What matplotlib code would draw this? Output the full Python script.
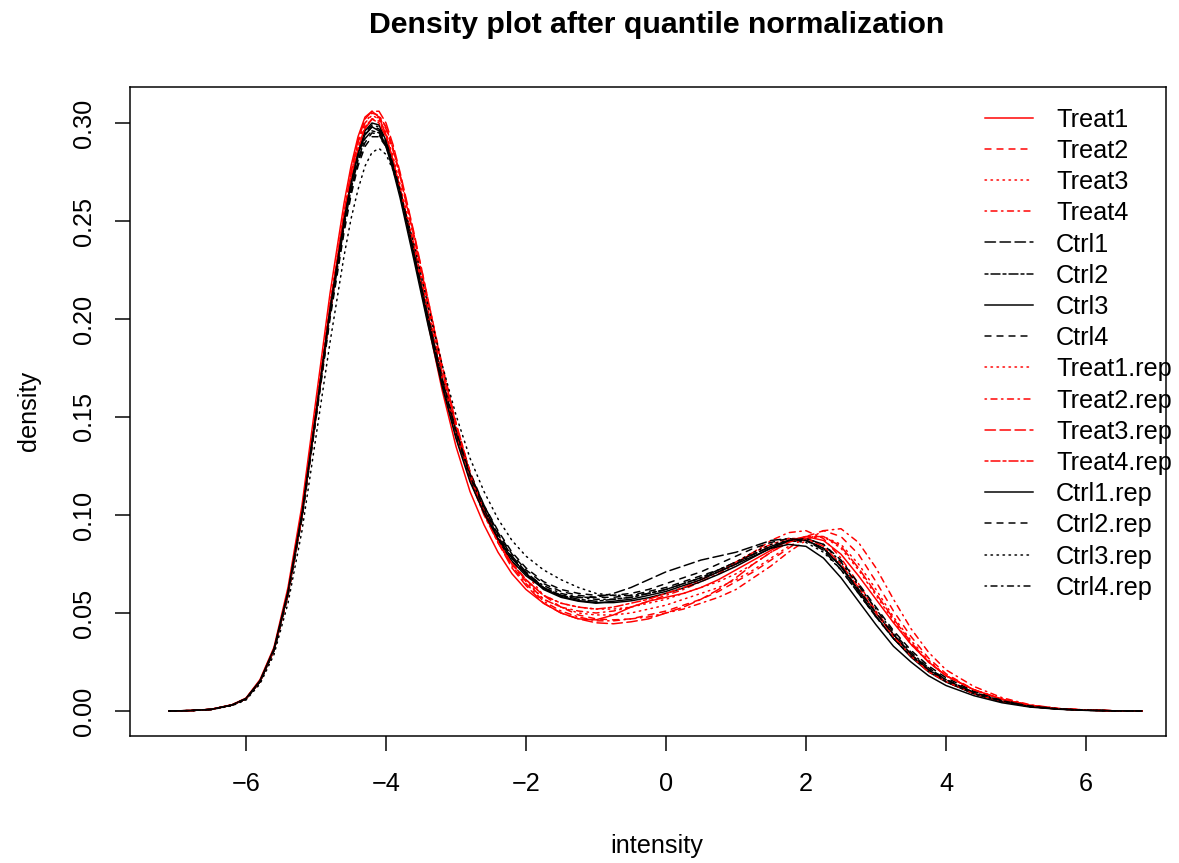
import matplotlib
matplotlib.use('Agg')
import matplotlib.pyplot as plt
from matplotlib.lines import Line2D

plt.rcParams['font.family'] = ['Liberation Sans', 'DejaVu Sans']

# ---------------- data ----------------
intensity = [-7.1, -6.8, -6.5, -6.2, -6.0, -5.8, -5.6, -5.4, -5.2, -5.0,
             -4.8, -4.6, -4.5, -4.4, -4.3, -4.2, -4.1, -4.0, -3.9, -3.8,
             -3.6, -3.4, -3.2, -3.0, -2.8, -2.6, -2.4, -2.2, -2.0, -1.75,
             -1.5, -1.25, -1.0, -0.75, -0.5, -0.25, 0.0, 0.25, 0.5, 0.75,
             1.0, 1.25, 1.5, 1.75, 2.0, 2.25, 2.5, 2.75, 3.0, 3.25,
             3.5, 3.75, 4.0, 4.4, 4.8, 5.2, 5.6, 6.0, 6.4, 6.8]

treat1 = [0.0000, 0.0002, 0.0009, 0.0032, 0.0066, 0.0160, 0.0325,
          0.063, 0.105, 0.159, 0.213, 0.259, 0.278, 0.293, 0.303, 0.306, 0.303, 0.294, 0.281, 0.266,
          0.233, 0.198, 0.164, 0.135, 0.112, 0.095, 0.081, 0.070, 0.062,
          0.055, 0.050, 0.047, 0.0465, 0.049, 0.053, 0.056, 0.058, 0.060, 0.063, 0.067, 0.072,
          0.077, 0.082, 0.087, 0.089, 0.087, 0.080, 0.069, 0.057, 0.045, 0.034, 0.025, 0.018,
          0.0108, 0.0060, 0.0029, 0.0012, 0.0005, 0.0001, 0.0000]
treat2 = [0.0000, 0.0002, 0.0008, 0.0030, 0.0062, 0.0150, 0.0310,
          0.059, 0.099, 0.150, 0.203, 0.250, 0.270, 0.286, 0.297, 0.302, 0.303, 0.297, 0.286, 0.273,
          0.242, 0.209, 0.176, 0.147, 0.122, 0.103, 0.088, 0.076, 0.067,
          0.059, 0.053, 0.049, 0.047, 0.0465, 0.047, 0.049, 0.051, 0.054, 0.057, 0.061, 0.066,
          0.071, 0.077, 0.083, 0.089, 0.092, 0.089, 0.080, 0.066, 0.051, 0.038, 0.027, 0.019,
          0.0108, 0.0060, 0.0029, 0.0012, 0.0005, 0.0001, 0.0000]
treat3 = [0.0000, 0.0002, 0.0008, 0.0030, 0.0062, 0.0150, 0.0310,
          0.060, 0.100, 0.152, 0.206, 0.252, 0.272, 0.287, 0.298, 0.302, 0.301, 0.294, 0.282, 0.268,
          0.237, 0.204, 0.172, 0.144, 0.121, 0.103, 0.089, 0.078, 0.070,
          0.059, 0.055, 0.053, 0.052, 0.052, 0.053, 0.055, 0.057, 0.060, 0.063, 0.066, 0.070,
          0.075, 0.081, 0.086, 0.089, 0.089, 0.083, 0.072, 0.059, 0.046, 0.034, 0.025, 0.018,
          0.0108, 0.0060, 0.0029, 0.0012, 0.0005, 0.0001, 0.0000]
treat4 = [0.0000, 0.0002, 0.0008, 0.0030, 0.0062, 0.0150, 0.0310,
          0.060, 0.100, 0.152, 0.206, 0.254, 0.274, 0.290, 0.300, 0.305, 0.304, 0.298, 0.287, 0.273,
          0.241, 0.207, 0.174, 0.145, 0.121, 0.102, 0.087, 0.075, 0.066,
          0.057, 0.053, 0.051, 0.050, 0.051, 0.053, 0.056, 0.059, 0.062, 0.066, 0.070, 0.075,
          0.081, 0.087, 0.091, 0.092, 0.088, 0.078, 0.065, 0.051, 0.039, 0.029, 0.021, 0.015,
          0.0088, 0.0048, 0.0023, 0.0010, 0.0004, 0.0001, 0.0000]
ctrl1 = [0.0000, 0.0002, 0.0008, 0.0030, 0.0062, 0.0150, 0.0310,
         0.060, 0.100, 0.151, 0.204, 0.249, 0.268, 0.283, 0.294, 0.298, 0.297, 0.290, 0.278, 0.265,
         0.233, 0.200, 0.169, 0.142, 0.120, 0.104, 0.090, 0.079, 0.071,
         0.063, 0.059, 0.058, 0.058, 0.060, 0.063, 0.067, 0.071, 0.074, 0.077, 0.079, 0.081,
         0.084, 0.087, 0.088, 0.087, 0.082, 0.072, 0.060, 0.048, 0.037, 0.028, 0.021, 0.015,
         0.0088, 0.0048, 0.0023, 0.0010, 0.0004, 0.0001, 0.0000]
ctrl2 = [0.0000, 0.0002, 0.0008, 0.0030, 0.0062, 0.0150, 0.0310,
         0.059, 0.099, 0.150, 0.202, 0.247, 0.266, 0.281, 0.292, 0.296, 0.295, 0.289, 0.278, 0.265,
         0.233, 0.200, 0.168, 0.141, 0.119, 0.102, 0.088, 0.078, 0.070,
         0.063, 0.059, 0.057, 0.056, 0.057, 0.058, 0.060, 0.062, 0.065, 0.068, 0.072, 0.076,
         0.080, 0.084, 0.087, 0.087, 0.083, 0.074, 0.062, 0.050, 0.039, 0.029, 0.021, 0.016,
         0.0090, 0.0049, 0.0023, 0.0010, 0.0004, 0.0001, 0.0000]
ctrl3 = [0.0000, 0.0002, 0.0008, 0.0030, 0.0062, 0.0150, 0.0310,
         0.060, 0.100, 0.152, 0.205, 0.251, 0.270, 0.285, 0.296, 0.300, 0.299, 0.291, 0.279, 0.265,
         0.233, 0.200, 0.168, 0.140, 0.118, 0.101, 0.087, 0.0765, 0.069,
         0.0625, 0.0585, 0.0563, 0.0553, 0.0553, 0.0562, 0.0578, 0.060, 0.0628, 0.066, 0.0697, 0.0738,
         0.0785, 0.0832, 0.0866, 0.0872, 0.0830, 0.0735, 0.0610, 0.0485, 0.0370, 0.0275, 0.0200, 0.0148,
         0.0088, 0.0048, 0.0023, 0.0010, 0.0004, 0.0001, 0.0000]
ctrl4 = [0.0000, 0.0002, 0.0008, 0.0030, 0.0062, 0.0150, 0.0310,
         0.059, 0.098, 0.149, 0.200, 0.244, 0.263, 0.278, 0.288, 0.293, 0.293, 0.288, 0.278, 0.266,
         0.236, 0.203, 0.171, 0.144, 0.122, 0.105, 0.091, 0.080, 0.072,
         0.065, 0.061, 0.059, 0.058, 0.058, 0.059, 0.061, 0.063, 0.066, 0.069, 0.072, 0.076,
         0.080, 0.084, 0.087, 0.088, 0.085, 0.077, 0.065, 0.053, 0.041, 0.031, 0.023, 0.017,
         0.0100, 0.0055, 0.0026, 0.0011, 0.0004, 0.0001, 0.0000]
treat1_rep = [0.0000, 0.0002, 0.0008, 0.0031, 0.0064, 0.0155, 0.0315,
              0.061, 0.102, 0.154, 0.208, 0.254, 0.274, 0.290, 0.300, 0.304, 0.302, 0.295, 0.283, 0.269,
              0.238, 0.205, 0.172, 0.143, 0.120, 0.101, 0.087, 0.075, 0.067,
              0.057, 0.053, 0.050, 0.049, 0.049, 0.050, 0.052, 0.054, 0.057, 0.060, 0.063, 0.067,
              0.072, 0.078, 0.084, 0.088, 0.089, 0.085, 0.075, 0.062, 0.048, 0.036, 0.026, 0.018,
              0.0108, 0.0060, 0.0029, 0.0012, 0.0005, 0.0001, 0.0000]
treat2_rep = [0.0000, 0.0002, 0.0008, 0.0030, 0.0062, 0.0150, 0.0310,
              0.059, 0.099, 0.150, 0.203, 0.250, 0.270, 0.286, 0.297, 0.302, 0.303, 0.298, 0.287, 0.274,
              0.243, 0.210, 0.177, 0.147, 0.122, 0.102, 0.086, 0.074, 0.065,
              0.056, 0.051, 0.048, 0.046, 0.046, 0.047, 0.048, 0.050, 0.052, 0.055, 0.058, 0.062,
              0.068, 0.074, 0.081, 0.087, 0.092, 0.093, 0.086, 0.073, 0.057, 0.042, 0.030, 0.021,
              0.0125, 0.0068, 0.0032, 0.0013, 0.0005, 0.0001, 0.0000]
treat3_rep = [0.0000, 0.0002, 0.0008, 0.0030, 0.0062, 0.0150, 0.0310,
              0.060, 0.100, 0.152, 0.206, 0.254, 0.275, 0.291, 0.302, 0.306, 0.306, 0.300, 0.289, 0.275,
              0.244, 0.210, 0.176, 0.146, 0.121, 0.101, 0.086, 0.073, 0.064,
              0.055, 0.050, 0.047, 0.045, 0.0445, 0.0455, 0.047, 0.050, 0.053, 0.057, 0.062, 0.068,
              0.075, 0.081, 0.086, 0.089, 0.089, 0.084, 0.073, 0.060, 0.047, 0.035, 0.025, 0.018,
              0.0108, 0.0060, 0.0029, 0.0012, 0.0005, 0.0001, 0.0000]
treat4_rep = [0.0000, 0.0002, 0.0008, 0.0031, 0.0064, 0.0155, 0.0318,
              0.061, 0.101, 0.153, 0.206, 0.252, 0.271, 0.287, 0.298, 0.302, 0.300, 0.293, 0.281, 0.267,
              0.236, 0.202, 0.170, 0.141, 0.118, 0.100, 0.086, 0.075, 0.067,
              0.059, 0.055, 0.053, 0.052, 0.053, 0.055, 0.057, 0.060, 0.063, 0.067, 0.071, 0.076,
              0.081, 0.085, 0.088, 0.088, 0.084, 0.075, 0.063, 0.050, 0.038, 0.028, 0.020, 0.015,
              0.0088, 0.0048, 0.0023, 0.0010, 0.0004, 0.0001, 0.0000]
ctrl1_rep = [0.0000, 0.0002, 0.0008, 0.0031, 0.0064, 0.0155, 0.0318,
             0.061, 0.101, 0.152, 0.205, 0.250, 0.269, 0.284, 0.294, 0.298, 0.296, 0.288, 0.276, 0.262,
             0.230, 0.197, 0.166, 0.139, 0.117, 0.101, 0.088, 0.078, 0.070,
             0.062, 0.058, 0.056, 0.055, 0.056, 0.057, 0.059, 0.061, 0.064, 0.067, 0.071, 0.075,
             0.079, 0.083, 0.085, 0.084, 0.078, 0.068, 0.056, 0.044, 0.033, 0.025, 0.018, 0.013,
             0.0078, 0.0042, 0.0020, 0.0009, 0.0003, 0.0001, 0.0000]
ctrl2_rep = [0.0000, 0.0002, 0.0008, 0.0030, 0.0062, 0.0150, 0.0310,
             0.060, 0.099, 0.150, 0.202, 0.246, 0.265, 0.280, 0.290, 0.295, 0.294, 0.288, 0.277, 0.264,
             0.233, 0.201, 0.170, 0.143, 0.121, 0.105, 0.092, 0.081, 0.073,
             0.066, 0.062, 0.060, 0.059, 0.059, 0.060, 0.062, 0.065, 0.068, 0.071, 0.075, 0.079,
             0.083, 0.086, 0.088, 0.087, 0.083, 0.074, 0.062, 0.050, 0.039, 0.029, 0.022, 0.016,
             0.0095, 0.0052, 0.0025, 0.0011, 0.0004, 0.0001, 0.0000]
ctrl3_rep = [0.0000, 0.0002, 0.0007, 0.0027, 0.0056, 0.0138, 0.0288,
             0.055, 0.092, 0.140, 0.188, 0.232, 0.251, 0.266, 0.278, 0.285, 0.287, 0.284, 0.276, 0.265,
             0.238, 0.207, 0.177, 0.151, 0.129, 0.112, 0.098, 0.087, 0.079,
             0.072, 0.067, 0.063, 0.060, 0.059, 0.059, 0.060, 0.062, 0.065, 0.068, 0.072, 0.076,
             0.081, 0.085, 0.087, 0.086, 0.081, 0.072, 0.060, 0.048, 0.037, 0.028, 0.021, 0.015,
             0.0088, 0.0048, 0.0023, 0.0010, 0.0004, 0.0001, 0.0000]
ctrl4_rep = [0.0000, 0.0002, 0.0008, 0.0030, 0.0062, 0.0150, 0.0310,
             0.060, 0.100, 0.151, 0.204, 0.250, 0.269, 0.284, 0.295, 0.299, 0.298, 0.291, 0.279, 0.266,
             0.234, 0.201, 0.169, 0.142, 0.120, 0.103, 0.089, 0.078, 0.070,
             0.064, 0.060, 0.058, 0.057, 0.057, 0.058, 0.060, 0.062, 0.065, 0.068, 0.071, 0.075,
             0.080, 0.084, 0.087, 0.088, 0.085, 0.076, 0.064, 0.052, 0.040, 0.030, 0.022, 0.016,
             0.0095, 0.0052, 0.0025, 0.0011, 0.0004, 0.0001, 0.0000]

sample_names = ["Treat1", "Treat2", "Treat3", "Treat4",
                "Ctrl1", "Ctrl2", "Ctrl3", "Ctrl4",
                "Treat1.rep", "Treat2.rep", "Treat3.rep", "Treat4.rep",
                "Ctrl1.rep", "Ctrl2.rep", "Ctrl3.rep", "Ctrl4.rep"]
densities = [treat1, treat2, treat3, treat4, ctrl1, ctrl2, ctrl3, ctrl4,
             treat1_rep, treat2_rep, treat3_rep, treat4_rep,
             ctrl1_rep, ctrl2_rep, ctrl3_rep, ctrl4_rep]
sample_colors = ["red"] * 4 + ["black"] * 4 + ["red"] * 4 + ["black"] * 4

x_ticks = [-6, -4, -2, 0, 2, 4, 6]
y_ticks = [0.00, 0.05, 0.10, 0.15, 0.20, 0.25, 0.30]
y_ticklabels = ["0.00", "0.05", "0.10", "0.15", "0.20", "0.25", "0.30"]

# R line types 1..6 (solid, dashed, dotted, dotdash, longdash, twodash)
r_lty = ['-', (0, (4, 4)), (0, (1, 3)), (0, (1, 3, 4, 3)), (0, (7, 3)), (0, (2, 2, 6, 2))]

# ---------------- figure ----------------
W, H = 1179, 863
fig = plt.figure(figsize=(W / 100, H / 100), dpi=100)
L, R, T, B = 130, 1166, 87, 736
ax = fig.add_axes([L / W, 1 - B / H, (R - L) / W, (B - T) / H])
LW = 1.08
FS = 18.2

for i, (d, c) in enumerate(zip(densities, sample_colors)):
    ax.plot(intensity, d, color=c, lw=LW, linestyle=r_lty[i % 6],
            dash_capstyle='round', solid_capstyle='round')

ax.set_xlim(-7.657, 7.143)
ax.set_ylim(-0.01276, 0.31837)
ax.set_xticks(x_ticks)
ax.set_yticks(y_ticks)
ax.set_yticklabels(y_ticklabels, rotation=90, va='center')
ax.tick_params(axis='both', direction='out', length=10.8, width=LW,
               labelsize=FS, colors='black')
ax.tick_params(axis='x', pad=15)
ax.tick_params(axis='y', pad=14)
for s in ax.spines.values():
    s.set_linewidth(LW)
    s.set_color('black')

# titles / axis labels
fig.text(657 / W, 1 - 25 / H, "Density plot after quantile normalization",
         ha='center', va='center', fontsize=21.8, fontweight='bold')
fig.text(657 / W, 1 - 846 / H, "intensity", ha='center', va='center', fontsize=FS)
fig.text(29 / W, 1 - 411 / H, "density", ha='center', va='center',
         rotation=90, fontsize=FS)

# legend (R style, no box)
y0, dy = 117.7, 31.2
for i, name in enumerate(sample_names):
    yp = y0 + dy * i
    fig.add_artist(Line2D([985 / W, 1033 / W], [1 - yp / H, 1 - yp / H],
                          transform=fig.transFigure, color=sample_colors[i],
                          lw=LW, linestyle=r_lty[i % 6], dash_capstyle='round'))
    fig.text(1056 / W, 1 - (yp + 9.0) / H, name, ha='left', va='baseline',
             fontsize=FS)

fig.savefig("out.png", dpi=100)
